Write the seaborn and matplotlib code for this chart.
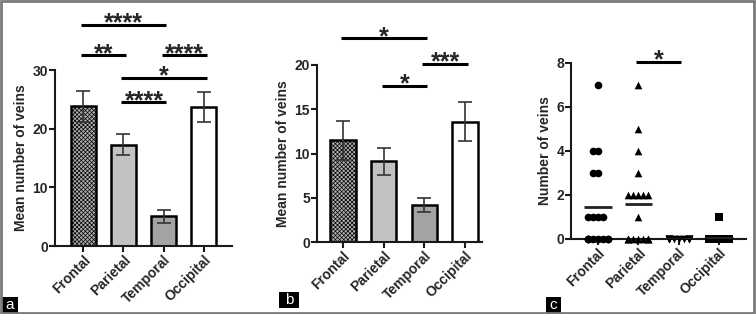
import warnings

import seaborn as sns
import pandas as pd
import matplotlib.pyplot as plt
import matplotlib
import numpy as np
from matplotlib.patches import Rectangle

warnings.filterwarnings('ignore')

sns.set_style('ticks')
plt.rcParams['font.family'] = ['Liberation Sans', 'DejaVu Sans']
plt.rcParams['font.weight'] = 'bold'
plt.rcParams['axes.labelweight'] = 'bold'
plt.rcParams['hatch.linewidth'] = 0.5

regions = ['Frontal', 'Parietal', 'Temporal', 'Occipital']
bar_colors = ['#b0b0b0', '#c2c2c2', '#a3a3a3', '#ffffff']

# panel a: mean number of veins +/- SEM
a_mean = [23.8, 17.3, 5.1, 23.7]
a_sem = [2.6, 1.8, 1.1, 2.6]
a_sig = [(0, 2, 37.7, '****'), (0, 1, 32.5, '**'), (2, 3, 32.5, '****'),
         (1, 3, 28.6, '*'), (1, 2, 24.5, '****')]

# panel b
b_mean = [11.5, 9.1, 4.2, 13.6]
b_sem = [2.2, 1.5, 0.8, 2.2]
b_sig = [(0, 2, 23.0, '*'), (2, 3, 20.1, '***'), (1, 2, 17.6, '*')]

# panel c: individual counts
c_frontal = [0] * 8 + [1] * 4 + [3, 3, 4, 4, 7]
c_parietal = [0] * 9 + [1] + [2] * 5 + [3, 4, 5, 7]
c_temporal = [0] * 12
c_occipital = [0] * 14 + [1]
c_markers = ['o', '^', 'v', 's']
c_sig = [(1, 2, 8.05, '*')]

W, H = 756, 314
fig = plt.figure(figsize=(W / 100, H / 100), dpi=100)


def px_axes(l, r, t, b):
    return fig.add_axes([l / W, 1 - b / H, (r - l) / W, (b - t) / H])


def style(ax, ylabel, ymax, step, xlim):
    ax.set_ylim(0, ymax)
    ax.set_yticks(np.arange(0, ymax + 0.01, step))
    ax.set_xlim(*xlim)
    ax.set_xlabel('')
    ax.set_ylabel(ylabel, fontsize=10, labelpad=3)
    for s in ['top', 'right']:
        ax.spines[s].set_visible(False)
    for s in ['left', 'bottom']:
        ax.spines[s].set_linewidth(1.5)
        ax.spines[s].set_color('#1a1a1a')
    ax.tick_params(axis='both', length=4, width=1.5, color='#1a1a1a', labelsize=10, pad=1)
    ax.set_xticks(range(4))
    ax.set_xticklabels(regions, rotation=45, ha='right', va='top', rotation_mode='anchor',
                       fontweight='bold')
    for lab in ax.get_yticklabels():
        lab.set_fontweight('bold')


def sig_lines(ax, sig):
    for i, j, y, stars in sig:
        ax.plot([i - 0.05, j + 0.07], [y, y], color='black', lw=2.2, clip_on=False,
                solid_capstyle='butt')
        ax.annotate(stars, xy=((i + j) / 2 + 0.01, y), xytext=(0, -4), textcoords='offset points',
                    ha='center', va='baseline', fontsize=18, fontweight='bold',
                    annotation_clip=False)


def bar_panel(ax, means, sems, sig, ylabel, ymax, step, xlim):
    df = pd.DataFrame({'region': regions, 'mean': means})
    sns.barplot(data=df, x='region', y='mean', hue='region', palette=bar_colors, legend=False,
                order=regions, edgecolor='black', linewidth=1.8, width=0.62, ax=ax, zorder=2)
    ax.patches[0].set_hatch('xxxxxxxx')
    ax.errorbar(range(4), means, yerr=sems, fmt='none', ecolor='#333333', elinewidth=1.2,
                capsize=5, capthick=1.2, zorder=3)
    style(ax, ylabel, ymax, step, xlim)
    sig_lines(ax, sig)


ax_a = px_axes(55, 232, 70, 246)
bar_panel(ax_a, a_mean, a_sem, a_sig, 'Mean number of veins', 30, 10, (-0.7, 3.7))

ax_b = px_axes(317, 482, 65, 242)
bar_panel(ax_b, b_mean, b_sem, b_sig, 'Mean number of veins', 20, 5, (-0.64, 3.42))

ax_c = px_axes(571, 746, 63, 239)
c_data = [c_frontal, c_parietal, c_temporal, c_occipital]
c_df = pd.concat([pd.DataFrame({'region': r, 'veins': v}) for r, v in zip(regions, c_data)])
for r, m in zip(regions, c_markers):
    sub = c_df[c_df['region'] == r]
    sns.swarmplot(data=sub, x='region', y='veins', order=regions, marker=m, color='black',
                  size=5.5, ax=ax_c, clip_on=False, zorder=3)
style(ax_c, 'Number of veins', 8, 2, (-0.67, 3.67))
fig.canvas.draw()
# squeeze the swarms so points overlap like the original dot plot
for coll in ax_c.collections:
    off = np.array(coll.get_offsets())
    if len(off):
        if 'draw' in coll.__dict__:
            del coll.__dict__['draw']
        centre = np.round(off[:, 0])
        off[:, 0] = centre + (off[:, 0] - centre) * 0.62
        coll.set_offsets(off)
c_means = c_df.groupby('region', sort=False)['veins'].mean().reindex(regions)
ax_c.hlines(c_means.values, np.arange(4) - 0.34, np.arange(4) + 0.34, color='#222222', lw=2,
            zorder=4)
sig_lines(ax_c, c_sig)

# panel letters
for letter, (l, t, r, b) in zip('abc', [(2, 297, 18, 313), (279, 292, 299, 308), (546, 297, 561, 313)]):
    fig.patches.append(Rectangle((l / W, 1 - b / H), (r - l) / W, (b - t) / H,
                                 transform=fig.transFigure, facecolor='black', edgecolor='none'))
    fig.text((l + r) / 2 / W, 1 - (t + b) / 2 / H, letter, color='white', fontsize=11,
             fontweight='normal', ha='center', va='center')

fig.patches.append(Rectangle((0.001, 0.002), 0.997, 0.995, transform=fig.transFigure,
                             fill=False, edgecolor='#7a7a7a', linewidth=2))

plt.savefig('out.png', dpi=100)
